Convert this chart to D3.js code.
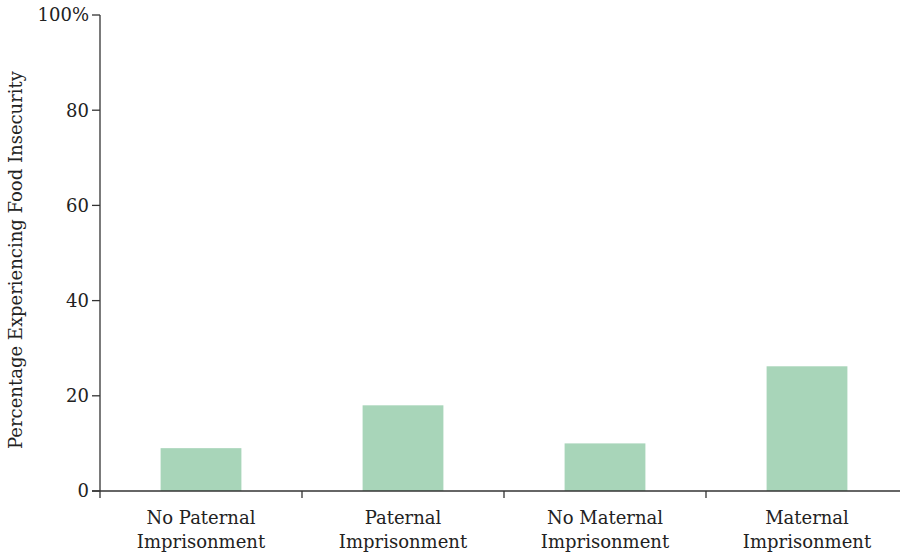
<!DOCTYPE html>
<html><head><meta charset="utf-8">
<script src="https://cdn.jsdelivr.net/npm/d3@7"></script>
<style>body{margin:0;background:#fff;} svg{display:block;} text{font-family:"DejaVu Serif",serif;fill:#222;}</style>
</head><body>
<svg id="c" width="900" height="556"></svg>
<script>
const categories = [["No Paternal","Imprisonment"],["Paternal","Imprisonment"],["No Maternal","Imprisonment"],["Maternal","Imprisonment"]];
const values = [9, 18, 10, 26.2];
const yTicks = [0, 20, 40, 60, 80, 100];
const yTickLabels = ["0","20","40","60","80","100%"];
const yTitle = "Percentage Experiencing Food Insecurity";

const svg = d3.select("#c");
const x = d3.scaleBand().domain(d3.range(categories.length)).range([100, 908]).paddingInner(0.6).paddingOuter(0.3);
const y = d3.scaleLinear().domain([0, 100]).range([491, 15]);
const step = x.step();

svg.selectAll("rect.bar").data(values).join("rect").attr("class","bar")
  .attr("x",(d,i)=>x(i)).attr("width",x.bandwidth())
  .attr("y",d=>y(d)).attr("height",d=>y(0)-y(d)).attr("fill","#a8d5b9");

const ax = "#333";
svg.append("line").attr("x1",100).attr("x2",100).attr("y1",y(100)).attr("y2",y(0)).attr("stroke",ax).attr("stroke-width",1.3);
yTicks.forEach((t,i)=>{
  svg.append("line").attr("x1",92).attr("x2",100).attr("y1",y(t)).attr("y2",y(t)).attr("stroke",ax).attr("stroke-width",1.3);
  svg.append("text").attr("x",89).attr("y",y(t)).attr("dy","0.35em").attr("text-anchor","end").attr("font-size",18).text(yTickLabels[i]);
});
svg.append("line").attr("x1",92).attr("x2",908).attr("y1",y(0)).attr("y2",y(0)).attr("stroke",ax).attr("stroke-width",1.3);
d3.range(categories.length+1).forEach(i=>{
  const xx = 100 + i*step;
  svg.append("line").attr("x1",xx).attr("x2",xx).attr("y1",y(0)).attr("y2",y(0)+7).attr("stroke",ax).attr("stroke-width",1.3);
});
categories.forEach((c,i)=>{
  const cx = x(i)+x.bandwidth()/2;
  const t = svg.append("text").attr("x",cx).attr("y",524).attr("text-anchor","middle").attr("font-size",18);
  c.forEach((line,j)=>t.append("tspan").attr("x",cx).attr("dy", j===0?0:24).text(line));
});
svg.append("text").attr("transform","translate(22,260) rotate(-90)").attr("text-anchor","middle").attr("font-size",18).text(yTitle);
</script>
</body></html>
